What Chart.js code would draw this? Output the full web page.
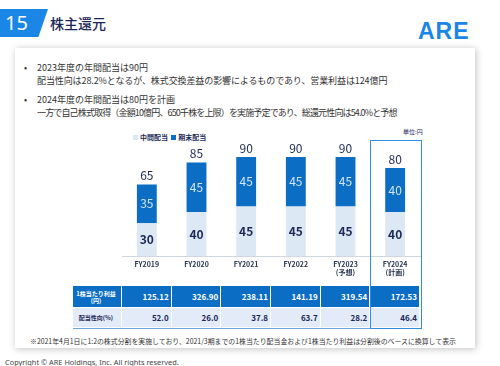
<!DOCTYPE html>
<html><head><meta charset="utf-8">
<script src="https://cdn.jsdelivr.net/npm/chart.js@4.4.1/dist/chart.umd.min.js"></script>
<style>
html,body{margin:0;padding:0;}
body{width:500px;height:366px;overflow:hidden;background:#fff;position:relative;font-family:"Noto Sans CJK JP","Noto Sans",sans-serif;color:#333;}
.abs{position:absolute;white-space:nowrap;}
#card{position:absolute;left:15px;top:48px;width:460px;height:300px;background:#fff;box-shadow:1px 1px 7px rgba(0,0,0,0.25);}
#numbox{position:absolute;left:0;top:9px;width:48px;height:28px;background:#1a86e6;clip-path:polygon(0 0,100% 0,80% 100%,0 100%);}
#num{left:5px;top:9px;font-size:20px;color:#fff;line-height:28px;font-family:"Noto Sans","Open Sans",sans-serif;}
#title{left:50px;top:13px;font-size:14px;color:#1c2757;line-height:20px;font-weight:500;}
#logo{left:418px;top:18px;font-size:23px;font-weight:bold;color:#1a86e6;font-family:"Liberation Sans",Arial,sans-serif;letter-spacing:1px;line-height:26px;}
.bul{font-size:9px;color:#333;line-height:13px;}
#chart{position:absolute;left:0;top:0;width:500px;height:366px;pointer-events:none;z-index:3;}
.legend{font-size:7px;font-weight:bold;color:#1c2757;top:132px;line-height:10px;}
.sq{display:inline-block;width:5px;height:5px;margin-right:2px;vertical-align:0px;}
#unit{left:403px;top:128px;font-size:6px;color:#1c2757;line-height:8px;}
.cell{position:absolute;box-sizing:border-box;text-align:right;font-weight:bold;padding-right:2px;}
#hl{position:absolute;left:370px;top:140px;width:52px;height:189px;border:1.5px solid #2f8de6;box-sizing:border-box;z-index:4;}
#note{left:30px;top:336px;font-size:6.9px;color:#333;line-height:10px;}
#copy{left:5px;top:357px;font-size:7.4px;color:#444;line-height:10px;font-family:"Noto Sans",sans-serif;}
</style></head>
<body>
<div id="card"></div>
<div id="numbox"></div>
<div class="abs" id="num">15</div>
<div class="abs" id="title">株主還元</div>
<div class="abs" id="logo">ARE</div>
<div class="abs bul" style="left:24px;top:61px;">•</div>
<div class="abs bul" style="left:37px;top:61px;">2023年度の年間配当は90円</div>
<div class="abs bul" style="left:37px;top:74px;letter-spacing:-0.1px;">配当性向は28.2%となるが、株式交換差益の影響によるものであり、営業利益は124億円</div>
<div class="abs bul" style="left:24px;top:93px;">•</div>
<div class="abs bul" style="left:37px;top:93px;">2024年度の年間配当は80円を計画</div>
<div class="abs bul" style="left:37px;top:106px;letter-spacing:-0.85px;">一方で自己株式取得（金額10億円、650千株を上限）を実施予定であり、総還元性向は54.0%と予想</div>
<div class="abs legend" id="legend" style="left:133px;"></div>
<div class="abs" id="unit">単位:円</div>
<div id="table"></div>
<div id="hl"></div>
<div class="abs" id="note">※2021年4月1日に1:2の株式分割を実施しており、2021/3期までの1株当たり配当金および1株当たり利益は分割後のベースに換算して表示</div>
<div class="abs" id="copy">Copyright © ARE Holdings, Inc. All rights reserved.</div>
<canvas id="chart" width="500" height="366"></canvas>
<script>
const categories = ['FY2019','FY2020','FY2021','FY2022','FY2023','FY2024'];
const subLabels = ['','','','','(予想)','(計画)'];
const seriesNames = ['中間配当','期末配当'];
const interim = [30,40,45,45,45,40];
const yearEnd = [35,45,45,45,45,40];
const rowNames = ['1株当たり利益\n(円)','配当性向(%)'];
const eps = ['125.12','326.90','238.11','141.19','319.54','172.53'];
const payout = ['52.0','26.0','37.8','63.7','28.2','46.4'];

const LIGHT = '#dde8f5', DARK = '#0b6dc3', NAVY = '#1c2757';

document.getElementById('legend').innerHTML =
  '<span class="sq" style="background:'+LIGHT+'"></span>'+seriesNames[0]+
  '&nbsp;&nbsp;<span class="sq" style="background:'+DARK+'"></span>'+seriesNames[1];

(function(){
  const t = document.getElementById('table');
  const left0 = 73, left1 = 122, colW = (420-122)/6;
  const rows = [{top:286,h:22,bg:DARK,fg:'#fff',vals:eps},{top:308,h:20,bg:'#e2ebf7',fg:NAVY,vals:payout}];
  rows.forEach((r,ri)=>{
    const hd = document.createElement('div');
    hd.className='cell';
    hd.style.cssText='left:'+left0+'px;top:'+r.top+'px;width:'+(left1-left0)+'px;height:'+r.h+'px;background:'+r.bg+';color:'+r.fg+';font-size:6px;line-height:7px;text-align:center;display:flex;align-items:center;justify-content:center;white-space:pre;border-right:1px solid #fff;border-bottom:1px solid #fff;';
    hd.textContent = rowNames[ri];
    t.appendChild(hd);
    r.vals.forEach((v,i)=>{
      const c = document.createElement('div');
      c.className='cell';
      c.style.cssText='left:'+(left1+i*colW)+'px;top:'+r.top+'px;width:'+colW+'px;height:'+r.h+'px;background:'+r.bg+';color:'+r.fg+';font-size:8px;line-height:'+r.h+'px;border-right:1px solid #fff;border-bottom:1px solid #fff;';
      c.textContent = v;
      t.appendChild(c);
    });
  });
  const line = document.createElement('div');
  line.style.cssText='position:absolute;left:73px;top:328px;width:347px;height:1px;background:#6aa5e0;';
  t.appendChild(line);
})();

const valuePlugin = {
  id:'values',
  afterDatasetsDraw(chart){
    const ctx = chart.ctx;
    const m0 = chart.getDatasetMeta(0), m1 = chart.getDatasetMeta(1);
    ctx.save();
    ctx.textAlign='center'; ctx.textBaseline='middle';
    m0.data.forEach((bar,i)=>{
      const p = bar.getProps(['x','y','base'],true);
      ctx.font='bold 12px "Noto Sans CJK JP","Noto Sans"';
      ctx.fillStyle=NAVY;
      ctx.fillText(String(interim[i]), p.x, (p.y+p.base)/2);
    });
    m1.data.forEach((bar,i)=>{
      const p = bar.getProps(['x','y','base'],true);
      ctx.font='12px "Noto Sans CJK JP","Noto Sans"';
      ctx.fillStyle='#d4e5f7';
      ctx.fillText(String(yearEnd[i]), p.x, (p.y+p.base)/2);
      ctx.fillStyle=NAVY;
      ctx.fillText(String(interim[i]+yearEnd[i]), p.x, p.y-9);
    });
    ctx.restore();
  }
};

new Chart(document.getElementById('chart'), {
  type:'bar',
  data:{
    labels: categories.map((c,i)=> subLabels[i] ? [c, subLabels[i]] : c),
    datasets:[
      {label:seriesNames[0], data:interim, backgroundColor:LIGHT, barPercentage:0.4, categoryPercentage:1},
      {label:seriesNames[1], data:yearEnd, backgroundColor:DARK, barPercentage:0.4, categoryPercentage:1}
    ]
  },
  options:{
    responsive:false, animation:false, devicePixelRatio:1,
    layout:{padding:{left:122,right:80,top:146,bottom:85}},
    plugins:{legend:{display:false}, tooltip:{enabled:false}},
    scales:{
      x:{stacked:true, grid:{display:false, drawTicks:false}, border:{display:true,color:'#cfd6de',width:1},
         ticks:{padding:4, color:'#2a3550', font:{size:7, weight:'bold', family:'"Noto Sans CJK JP","Noto Sans"', lineHeight:1.2}, maxRotation:0, autoSkip:false}},
      y:{stacked:true, display:false, min:0, max:100}
    }
  },
  plugins:[valuePlugin]
});
</script>
</body></html>
